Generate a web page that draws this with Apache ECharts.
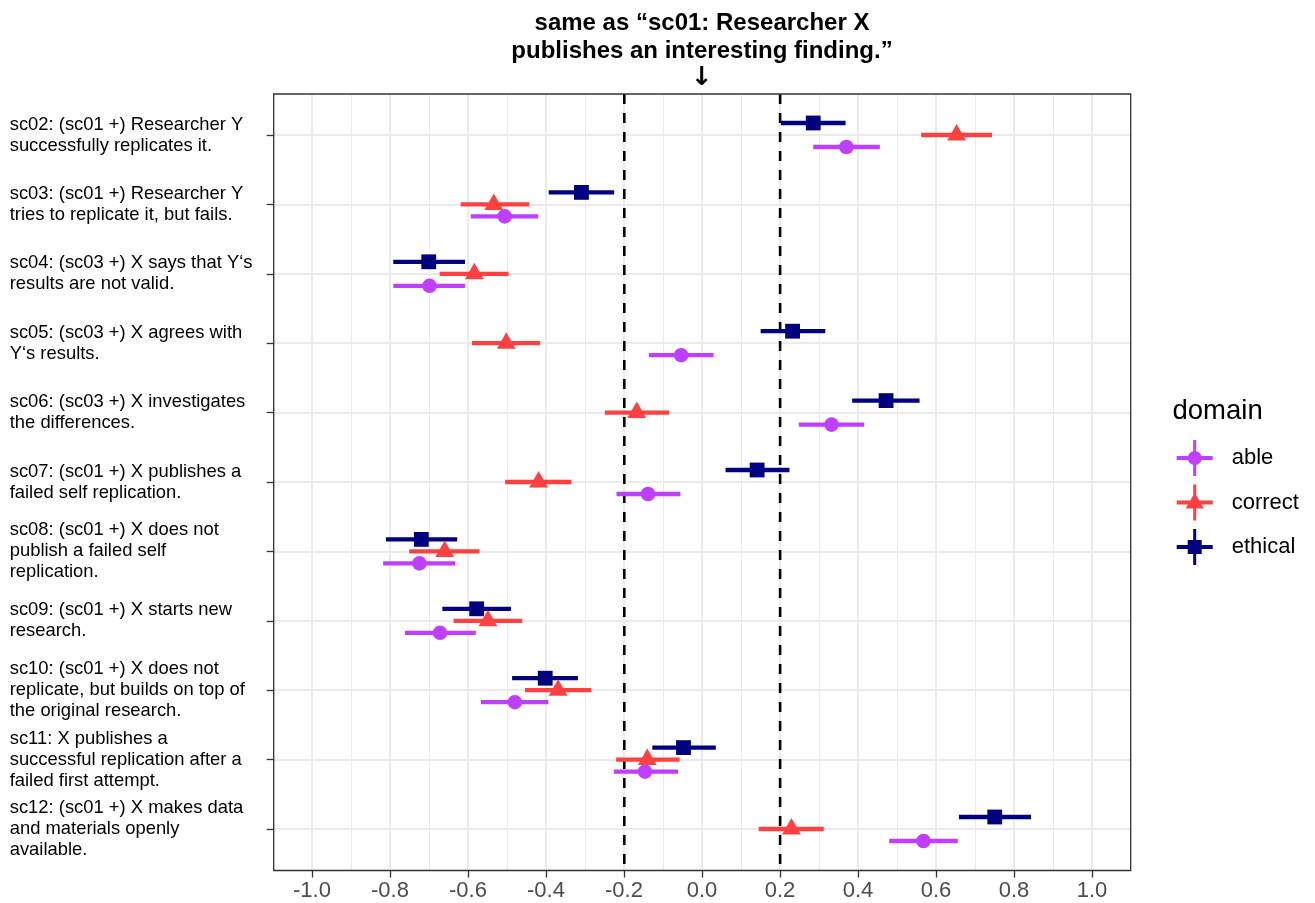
<!DOCTYPE html>
<html>
<head>
<meta charset="utf-8">
<script src="https://cdn.jsdelivr.net/npm/echarts@6/dist/echarts.min.js"></script>
<style>html,body{margin:0;padding:0;background:#fff;}#chart{width:1315px;height:903px;}</style>
</head>
<body>
<div id="chart"></div>
<script>
const categories = [
  "sc02: (sc01 +) Researcher Y\nsuccessfully replicates it.",
  "sc03: (sc01 +) Researcher Y\ntries to replicate it, but fails.",
  "sc04: (sc03 +) X says that Y‘s\nresults are not valid.",
  "sc05: (sc03 +) X agrees with\nY‘s results.",
  "sc06: (sc03 +) X investigates\nthe differences.",
  "sc07: (sc01 +) X publishes a\nfailed self replication.",
  "sc08: (sc01 +) X does not\npublish a failed self\nreplication.",
  "sc09: (sc01 +) X starts new\nresearch.",
  "sc10: (sc01 +) X does not\nreplicate, but builds on top of\nthe original research.",
  "sc11: X publishes a\nsuccessful replication after a\nfailed first attempt.",
  "sc12: (sc01 +) X makes data\nand materials openly\navailable."
];
const domains = ["able", "correct", "ethical"];

const ableEst = [0.370, -0.507, -0.700, -0.054, 0.332, -0.139, -0.726, -0.673, -0.481, -0.147, 0.568];
const ableLo  = [0.285, -0.594, -0.793, -0.137, 0.248, -0.220, -0.819, -0.763, -0.568, -0.227, 0.480];
const ableHi  = [0.456, -0.421, -0.609, 0.029, 0.416, -0.056, -0.634, -0.581, -0.395, -0.062, 0.656];

const correctEst = [0.653, -0.535, -0.585, -0.503, -0.168, -0.420, -0.661, -0.550, -0.370, -0.141, 0.229];
const correctLo  = [0.562, -0.620, -0.674, -0.591, -0.250, -0.506, -0.752, -0.638, -0.455, -0.221, 0.145];
const correctHi  = [0.744, -0.444, -0.497, -0.416, -0.085, -0.336, -0.572, -0.462, -0.285, -0.058, 0.312];

const ethicalEst = [0.285, -0.310, -0.702, 0.232, 0.472, 0.141, -0.721, -0.579, -0.403, -0.048, 0.751];
const ethicalLo  = [0.202, -0.394, -0.793, 0.150, 0.385, 0.060, -0.812, -0.667, -0.488, -0.128, 0.659];
const ethicalHi  = [0.368, -0.226, -0.609, 0.316, 0.558, 0.224, -0.629, -0.491, -0.319, 0.035, 0.844];

const refLines = [-0.2, 0.2];
const titleText = "same as “sc01: Researcher X\npublishes an interesting finding.”";
const arrowText = "↓";
const legendTitle = "domain";

const FONT = "'Liberation Sans', Arial, sans-serif";
const colors = { able: "#BF3EFF", correct: "#FF4040", ethical: "#000080" };
const dodge = { able: 0.173, correct: 0, ethical: -0.173 };
const shapes = { able: "circle", correct: "triangle", ethical: "square" };

const series = { able: [ableEst, ableLo, ableHi], correct: [correctEst, correctLo, correctHi], ethical: [ethicalEst, ethicalLo, ethicalHi] };

function makeData(name) {
  const [e, l, h] = series[name];
  return categories.map((c, i) => [c, e[i], l[i], h[i]]);
}

function makeRender(name) {
  const color = colors[name];
  return function (params, api) {
    const band = api.size([0, 1])[1];
    const off = dodge[name] * band;
    const c = api.coord([api.value(1), api.value(0)]);
    const lo = api.coord([api.value(2), api.value(0)]);
    const hi = api.coord([api.value(3), api.value(0)]);
    const cx = c[0], cy = c[1] + off;
    let marker;
    if (shapes[name] === "circle") {
      marker = { type: "circle", shape: { cx: cx, cy: cy, r: 7.3 }, style: { fill: color }, z2: 10 };
    } else if (shapes[name] === "square") {
      marker = { type: "rect", shape: { x: cx - 7.4, y: cy - 7.4, width: 14.8, height: 14.8 }, style: { fill: color }, z2: 10 };
    } else {
      marker = { type: "polygon", shape: { points: [[cx, cy - 11], [cx + 9.4, cy + 5.5], [cx - 9.4, cy + 5.5]] }, style: { fill: color }, z2: 10 };
    }
    return {
      type: "group",
      children: [
        { type: "line", shape: { x1: lo[0], y1: cy, x2: hi[0], y2: cy }, style: { stroke: color, lineWidth: 4.3, lineCap: "butt" }, z2: 1 },
        marker
      ]
    };
  };
}

const iconBars = "M0 16 L36 16 L36 20 L0 20 Z M16.5 0 L19.5 0 L19.5 36 L16.5 36 Z ";
const icons = {
  able: "path://" + iconBars + "M11 18 A7 7 0 1 1 25 18 A7 7 0 1 1 11 18 Z",
  correct: "path://" + iconBars + "M18 8 L27 24 L9 24 Z",
  ethical: "path://" + iconBars + "M11 11 L25 11 L25 25 L11 25 Z"
};

const chart = echarts.init(document.getElementById("chart"), null, { renderer: "canvas" });

const option = {
  backgroundColor: "#ffffff",
  animation: false,
  textStyle: { fontFamily: FONT },
  grid: [
    { left: 273.7, right: 184.3, top: 94, bottom: 32.5, show: true, backgroundColor: "transparent", borderColor: "#333333", borderWidth: 1.3, z: 5 },
    { left: 312, right: 223, top: 94, bottom: 32.5 },
    { left: 273.7, right: 184.3, top: 135, bottom: 74 }
  ],
  xAxis: [
    { gridIndex: 0, type: "value", min: -1.1, max: 1.1, show: false },
    {
      gridIndex: 1, type: "value", min: -1, max: 1, interval: 0.2,
      axisLine: { show: false, onZero: false },
      axisTick: { show: true, length: 7, lineStyle: { color: "#333333", width: 1.3 } },
      axisLabel: { fontSize: 22, color: "#4D4D4D", margin: 9, fontFamily: FONT, formatter: v => v.toFixed(1) },
      splitLine: { show: true, lineStyle: { color: "#EBEBEB", width: 2 } },
      minorTick: { show: false, splitNumber: 2 },
      minorSplitLine: { show: true, lineStyle: { color: "#EBEBEB", width: 1 } }
    },
    { gridIndex: 2, type: "value", min: -1.1, max: 1.1, show: false, axisLine: { onZero: false } }
  ],
  yAxis: [
    { gridIndex: 0, type: "value", min: 0, max: 1, show: false },
    { gridIndex: 1, type: "value", min: 0, max: 1, show: false },
    {
      gridIndex: 2, type: "category", data: categories, inverse: true, boundaryGap: false, position: "left",
      axisLine: { show: false, onZero: false },
      axisTick: { show: true, length: 7, interval: 0, lineStyle: { color: "#333333", width: 1.3 } },
      axisLabel: { interval: 0, align: "left", margin: 264, fontSize: 18.4, lineHeight: 21, color: "#000000", fontFamily: FONT },
      splitLine: { show: true, interval: 0, lineStyle: { color: "#EBEBEB", width: 2 } }
    }
  ],
  legend: {
    orient: "vertical",
    left: 1176.7, top: 440,
    itemWidth: 36, itemHeight: 36, itemGap: 8.5,
    padding: 0,
    textStyle: { fontSize: 22, color: "#000000", fontFamily: FONT, padding: [0, 0, 0, 14] },
    data: domains.map(d => ({ name: d, icon: icons[d] }))
  },
  graphic: [
    { type: "text", x: 702, y: 9, style: { text: titleText, fill: "#000", font: "bold 24px " + FONT, lineHeight: 28, textAlign: "center", textVerticalAlign: "top" } },
    { type: "text", x: 702, y: 78, style: { text: arrowText, fill: "#000", font: "bold 26px 'DejaVu Sans', " + FONT, textAlign: "center", textVerticalAlign: "middle" } },
    { type: "text", x: 1172.5, y: 411, style: { text: legendTitle, fill: "#000", font: "27.5px " + FONT, textAlign: "left", textVerticalAlign: "middle" } }
  ],
  series: [
    {
      type: "custom", name: "ref", xAxisIndex: 0, yAxisIndex: 0, silent: true,
      data: refLines.map(v => [v]), encode: { x: 0 },
      renderItem: function (params, api) {
        const p0 = api.coord([api.value(0), 1]);
        const p1 = api.coord([api.value(0), 0]);
        return { type: "line", shape: { x1: p0[0], y1: p0[1], x2: p1[0], y2: p1[1] }, style: { stroke: "#000", lineWidth: 2.6, lineDash: [10, 9] } };
      }
    }
  ].concat(domains.map(d => ({
    type: "custom", name: d, xAxisIndex: 2, yAxisIndex: 2,
    itemStyle: { color: colors[d] },
    data: makeData(d),
    encode: { y: 0, x: [1, 2, 3] },
    renderItem: makeRender(d)
  })))
};
chart.setOption(option);
</script>
</body>
</html>
